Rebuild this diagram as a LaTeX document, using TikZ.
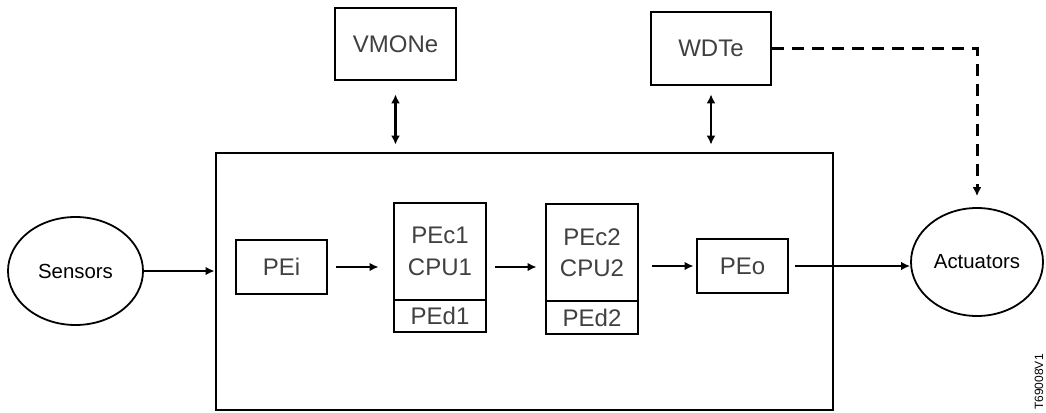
\documentclass[tikz,border=0pt]{standalone}
\usepackage{fontspec}
\setmainfont{Liberation Sans}
\usetikzlibrary{shapes.geometric,arrows.meta}

\begin{document}
\begin{tikzpicture}[x=1pt,y=-1pt,
		box/.style={draw,line width=2.8pt,inner sep=0pt,text=black!75,align=center,font=\fontsize{24}{31.5}\selectfont},
		io/.style={draw,ellipse,line width=1.8pt,inner sep=0pt,font=\fontsize{20.4}{24}\selectfont},
		link/.style={line width=2.4pt,-{Latex[length=9pt,width=8.5pt]}},
		duplex/.style={line width=2.8pt,{Latex[length=9pt,width=9pt]}-{Latex[length=9pt,width=9pt]}},
		watch/.style={line width=3pt,dash pattern=on 12pt off 8pt,-{Latex[length=9pt,width=9pt]}}]
		\useasboundingbox (0,0) rectangle (1046,412);
		
		% the sensors and actuators
		\node[io,minimum width=135,minimum height=108] (sens) at (75.5,271) {Sensors};
		\node[io,minimum width=132,minimum height=108] (act) at (977,262) {Actuators};
		
		% the processing unit and its elements
		\node[box,minimum width=617,minimum height=257] (unit) at (524.5,281.5) {};
		\node[box,minimum width=91,minimum height=54] (pei) at (281.5,267) {PEi};
		\node[box,minimum width=92,minimum height=97] (pec1) at (440,251.5) {PEc1\\CPU1};
		\node[box,minimum width=92,minimum height=32] (ped1) at (440,316) {PEd1};
		\node[box,minimum width=92,minimum height=97] (pec2) at (592,252.5) {PEc2\\CPU2};
		\node[box,minimum width=92,minimum height=33] (ped2) at (592,317.5) {PEd2};
		\node[box,minimum width=91,minimum height=54] (peo) at (742.5,266) {PEo};
		
		% the external monitors
		\node[box,minimum width=121,minimum height=72] (vmon) at (395.5,44) {VMONe};
		\node[box,minimum width=120,minimum height=73] (wdt) at (711,48.5) {WDTe};
		
		% the data path
		\draw[link] (sens.east) -- (sens.east -| unit.west);
		\draw[link,shorten <=8pt,shorten >=14pt] (pei.east) -- (pei.east -| pec1.west);
		\draw[link,shorten <=8pt,shorten >=8pt] (pei.east -| pec1.east) -- (pei.east -| pec2.west);
		\draw[link,shorten <=13pt,shorten >=2pt] (peo.west -| pec2.east) -- (peo.west);
		\draw[link,shorten <=6pt] (peo.east) -- (peo.east -| act.west);
		
		% links to the monitors
		\draw[duplex,shorten <=13pt,shorten >=7pt] (vmon.south) -- (vmon.south |- unit.north);
		\draw[duplex,shorten <=8pt,shorten >=7pt] (wdt.south) -- (wdt.south |- unit.north);
		\draw[watch,shorten >=11pt] (wdt.east) -| (act.north);
		
		% figure number
		\node[rotate=90,inner sep=0pt,font=\fontsize{12}{14}\selectfont] (fig) at (1039,382) {T69008V1};
	\end{tikzpicture}
\end{document}
